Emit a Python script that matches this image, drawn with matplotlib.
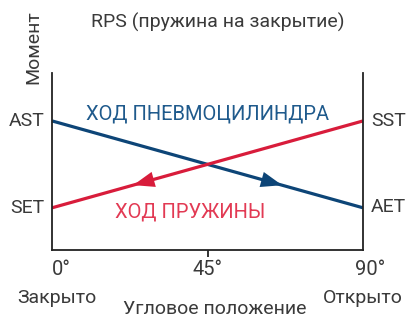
import matplotlib.pyplot as plt

# data
angle = [0, 90]
air_stroke = [3, 1]      # AST -> AET
spring_stroke = [1, 3]   # SET -> SST
xticks = [0, 45, 90]
xticklabels = ['0°', '45°', '90°']

blue = '#0d4577'
red = '#d81c3b'
grey = '#3a3a3a'

plt.rcParams['font.family'] = ['Roboto', 'DejaVu Sans']

fig = plt.figure(figsize=(4.13, 3.18), dpi=100)
ax = fig.add_axes([0.126, 0.214, 0.753, 0.556])

ax.plot(angle, air_stroke, color=blue, lw=2.3, solid_capstyle='butt')
ax.plot(angle, spring_stroke, color=red, lw=2.3, solid_capstyle='butt')

# direction arrows
def arrow(x0, x1, ys, col):
    y0 = ys[0] + (ys[1] - ys[0]) * x0 / 90
    y1 = ys[0] + (ys[1] - ys[0]) * x1 / 90
    ax.annotate('', xy=(x1, y1), xytext=(x0, y0),
                arrowprops=dict(arrowstyle='-|>,head_length=0.9,head_width=0.33',
                                mutation_scale=17, color=col, lw=0,
                                shrinkA=0, shrinkB=0))

arrow(61.5, 66.6, air_stroke, blue)
arrow(28.6, 23.5, spring_stroke, red)

ax.set_xlim(0, 90)
ax.set_ylim(0.03, 4.1)
ax.spines['top'].set_visible(False)
for s in ['left', 'right', 'bottom']:
    ax.spines[s].set_linewidth(1.3)
    ax.spines[s].set_color('#222222')
ax.set_yticks([])
ax.set_xticks([45])
ax.set_xticklabels([])
ax.tick_params(axis='x', direction='out', length=5, width=1.3, color='#222222')

for x, lab, dx in zip(xticks, xticklabels, [2.6, 0, 2]):
    ax.text(x + dx, -0.2, lab, ha='center', va='top', fontsize=14.5, color=grey)

ax.text(45, 3.15, 'ХОД ПНЕВМОЦИЛИНДРА', ha='center', va='center', fontsize=14.5, color='#1f5a8c')
ax.text(40, 0.9, 'ХОД ПРУЖИНЫ', ha='center', va='center', fontsize=14.5, color='#e23a54')

ax.text(-2.3, 3, 'AST', ha='right', va='center', fontsize=14, color=grey)
ax.text(-2.3, 1, 'SET', ha='right', va='center', fontsize=14, color=grey)
ax.text(92.3, 3, 'SST', ha='left', va='center', fontsize=14, color=grey)
ax.text(92.3, 1.03, 'AET', ha='left', va='center', fontsize=14, color=grey)

fig.text(218 / 413, 1 - 22 / 318, 'RPS (пружина на закрытие)', ha='center', va='center',
         fontsize=14, color=grey)
fig.text(33 / 413, 1 - 47 / 318, 'Момент', ha='center', va='center', rotation=90,
         fontsize=14, color=grey)
fig.text(57 / 413, 1 - 298 / 318, 'Закрыто', ha='center', va='center', fontsize=14, color=grey)
fig.text(363 / 413, 1 - 298 / 318, 'Открыто', ha='center', va='center', fontsize=14, color=grey)
fig.text(215 / 413, 1 - 309 / 318, 'Угловое положение', ha='center', va='center',
         fontsize=14, color=grey)

fig.savefig('out.png', dpi=100)
